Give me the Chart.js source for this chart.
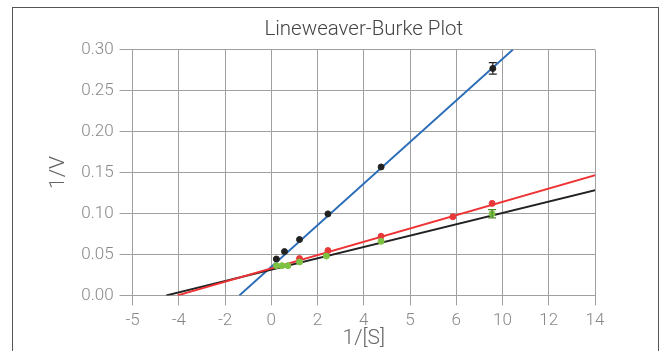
<!DOCTYPE html>
<html>
<head>
<meta charset="utf-8">
<script src="https://cdn.jsdelivr.net/npm/chart.js@4.4.1/dist/chart.umd.min.js"></script>
<style>
  html, body { margin: 0; padding: 0; background: #fff; overflow: hidden; }
  #wrap { position: absolute; left: 0; top: 0; width: 662px; height: 351px; }
  #frame { position: absolute; left: 12px; top: 7px; width: 645px; height: 400px;
           border: 1px solid #555; border-bottom: none; pointer-events: none; }
</style>
</head>
<body>
<div id="wrap"><canvas id="c" width="662" height="351"></canvas></div>
<div id="frame"></div>
<script>
// Tick labels as printed on the reference x axis (one per grid line)
const xTickLabels = ["-5", "-4", "-2", "0", "2", "4", "5", "6", "10", "12", "14"];

// Series 1 (black points, blue fit)
const s1X = [0.22, 0.57, 1.22, 2.45, 4.75, 9.58];
const s1Y = [0.0444, 0.0535, 0.0682, 0.0995, 0.1567, 0.277];
const s1Err = [0, 0, 0, 0, 0, 0.007];
const s1FitX = [-1.38, 10.45];
const s1FitY = [0.0, 0.30];

// Series 2 (red points, red fit)
const s2X = [1.22, 2.45, 4.75, 7.85, 9.55];
const s2Y = [0.0450, 0.0547, 0.0722, 0.0959, 0.1123];
const s2FitX = [-4.06, 14.04];
const s2FitY = [0.0, 0.147];

// Series 3 (green points, black fit)
const s3X = [0.22, 0.46, 0.72, 1.22, 2.38, 4.75, 9.55];
const s3Y = [0.0363, 0.0363, 0.0363, 0.0408, 0.0480, 0.0660, 0.0996];
const s3Err = [0, 0, 0, 0, 0, 0, 0.005];
const s3FitX = [-4.54, 14.04];
const s3FitY = [0.0, 0.1286];

const pts = (xs, ys) => xs.map((x, i) => ({ x: x, y: ys[i] }));

const errorBars = {
  id: 'errorBars',
  afterDatasetsDraw(chart) {
    const ctx = chart.ctx, xs = chart.scales.x, ys = chart.scales.y;
    chart.data.datasets.forEach(ds => {
      if (!ds.errors) return;
      ds.data.forEach((p, i) => {
        const e = ds.errors[i];
        if (!e) return;
        const px = xs.getPixelForValue(p.x);
        const y1 = ys.getPixelForValue(p.y - e);
        const y2 = ys.getPixelForValue(p.y + e);
        ctx.save();
        ctx.strokeStyle = ds.errorColor;
        ctx.lineWidth = 1.2;
        ctx.beginPath();
        ctx.moveTo(px, y1); ctx.lineTo(px, y2);
        ctx.moveTo(px - 4, y1); ctx.lineTo(px + 4, y1);
        ctx.moveTo(px - 4, y2); ctx.lineTo(px + 4, y2);
        ctx.stroke();
        ctx.restore();
      });
    });
  }
};

Chart.defaults.font.family = 'Roboto, "Noto Sans", sans-serif';
Chart.defaults.font.weight = '300';

new Chart(document.getElementById('c'), {
  type: 'scatter',
  data: {
    datasets: [
      { label: 'S1', data: pts(s1X, s1Y), errors: s1Err, errorColor: '#222',
        backgroundColor: '#222', borderColor: '#222', pointRadius: 3, showLine: false, order: 1 },
      { label: 'S2', data: pts(s2X, s2Y),
        backgroundColor: '#e8383a', borderColor: '#e8383a', pointRadius: 3, showLine: false, order: 2 },
      { label: 'S3', data: pts(s3X, s3Y), errors: s3Err, errorColor: '#4a8a2a',
        backgroundColor: '#7dc242', borderColor: '#7dc242', pointRadius: 3, showLine: false, order: 0 },
      { label: 'fit1', data: pts(s1FitX, s1FitY), showLine: true, pointRadius: 0,
        borderColor: '#2b6cb8', borderWidth: 2, order: 5 },
      { label: 'fit3', data: pts(s3FitX, s3FitY), showLine: true, pointRadius: 0,
        borderColor: '#222', borderWidth: 2, order: 4 },
      { label: 'fit2', data: pts(s2FitX, s2FitY), showLine: true, pointRadius: 0,
        borderColor: '#ee3234', borderWidth: 2, order: 3 }
    ]
  },
  options: {
    responsive: false,
    animation: false,
    layout: { padding: { top: 10, right: 67, left: 46, bottom: 0 } },
    plugins: {
      legend: { display: false },
      tooltip: { enabled: false },
      title: { display: true, text: 'Lineweaver-Burke Plot', color: '#444', fullSize: false,
               font: { size: 20.5, weight: '300' }, padding: { top: 8, bottom: 7 } }
    },
    scales: {
      x: {
        type: 'linear', min: -6, max: 14,
        ticks: { stepSize: 2, color: '#888', font: { size: 17 }, padding: 5,
                 callback: (v, i) => xTickLabels[i] },
        grid: { color: '#a0a0a0', lineWidth: 1, tickLength: 10, drawTicks: true },
        border: { color: '#a0a0a0' },
        title: { display: true, text: '1/[S]', color: '#666', font: { size: 21 },
                 padding: { top: -10, bottom: 0 } }
      },
      y: {
        type: 'linear', min: 0, max: 0.30,
        ticks: { stepSize: 0.05, color: '#888', font: { size: 17 }, padding: 6,
                 callback: v => v.toFixed(2) },
        grid: { color: '#a0a0a0', lineWidth: 1, tickLength: 13 },
        border: { color: '#a0a0a0' },
        title: { display: true, text: '1/V', color: '#666', font: { size: 21 },
                 padding: { top: 0, bottom: 4 } }
      }
    }
  },
  plugins: [errorBars]
});
</script>
</body>
</html>
